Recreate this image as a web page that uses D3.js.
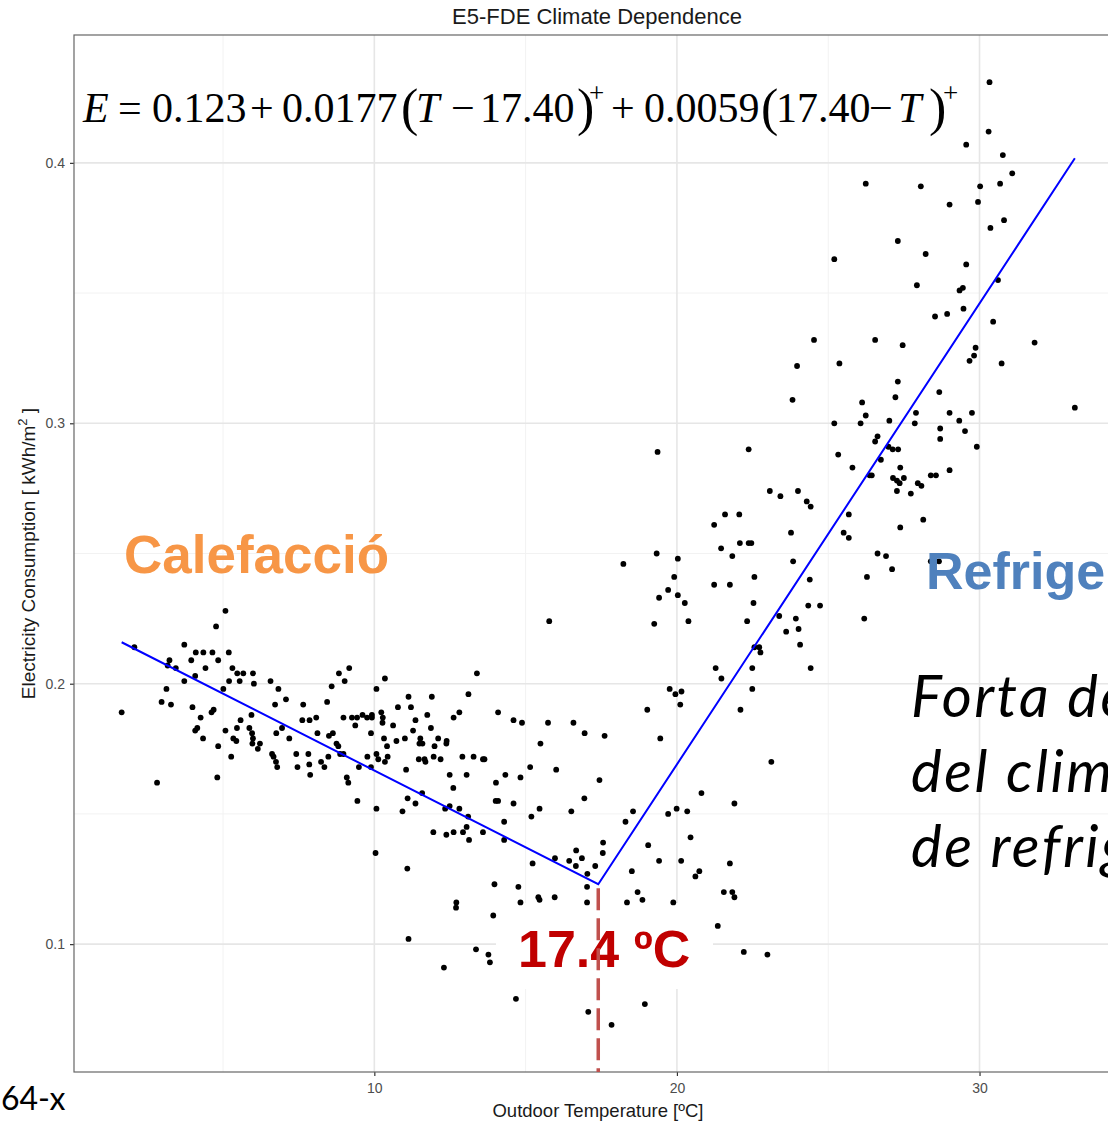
<!DOCTYPE html>
<html>
<head>
<meta charset="utf-8">
<script src="https://cdn.jsdelivr.net/npm/d3@7"></script>
<style>
  html, body { margin: 0; padding: 0; background: #ffffff; }
  svg { display: block; }
</style>
</head>
<body>
<svg id="chart" width="1108" height="1121"></svg>
<script>
// Daily outdoor temperature (ºC) and electricity consumption (kWh/m²)
const temperature = [
  2.07,1.65,2.82,5.08,4.77,3.72,4.10,4.35,4.65,5.19,
  3.95,4.84,3.23,3.17,3.44,4.42,5.31,5.47,5.67,5.99,
  4.08,3.72,5.20,5.55,6.02,6.57,3.13,5.01,6.83,2.97,
  3.28,3.99,4.69,4.62,4.26,6.72,7.08,7.65,8.44,8.59,
  8.83,9.17,9.02,10.07,10.35,5.94,5.58,7.62,7.86,8.08,
  8.98,9.26,9.43,9.61,9.76,9.92,9.92,10.23,10.28,10.27,
  9.37,4.08,4.15,5.08,5.46,5.87,5.96,4.34,5.34,5.44,
  5.99,5.97,6.22,6.15,4.84,5.27,6.76,6.95,7.19,8.12,
  8.50,8.63,8.75,8.81,8.87,8.98,9.89,10.32,10.42,6.62,
  6.67,6.75,6.79,7.42,7.82,8.48,7.46,7.85,8.24,8.35,
  7.88,9.49,9.77,9.89,10.07,10.13,10.35,10.44,9.09,9.14,
  9.44,10.07,10.04,4.81,
  13.39,13.11,11.90,11.13,11.21,10.78,12.81,12.62,11.36,11.75,
  11.87,10.62,10.73,11.01,11.28,11.52,11.49,11.59,12.11,12.39,
  12.38,11.99,11.47,11.69,11.66,11.96,12.19,12.91,13.28,13.59,
  13.64,11.05,12.49,13.05,12.61,11.58,11.10,11.36,10.93,12.34,
  12.49,12.81,13.10,11.95,12.38,12.62,12.93,13.05,13.13,13.59,
  11.09,12.71,12.70,11.13,12.30,13.36,13.77,13.82,14.09,14.60,
  14.88,15.74,16.58,16.95,17.61,15.49,15.15,16.01,14.33,14.83,
  14.02,17.44,16.94,14.01,14.09,14.60,15.46,15.19,16.51,14.29,
  14.29,15.23,15.97,16.44,16.67,16.86,16.66,17.04,17.30,17.56,
  17.55,17.03,13.97,14.76,15.42,15.46,15.96,14.83,17.03,13.93,
  14.68,17.07,17.84,15.78,
  19.36,22.37,23.07,23.42,24.00,21.59,22.06,21.23,23.77,21.46,
  22.08,22.37,22.46,21.83,23.84,19.33,20.03,18.23,19.91,19.71,
  19.41,20.03,20.26,19.25,20.38,21.23,21.75,22.56,22.53,22.32,
  23.38,23.93,24.02,23.61,24.07,22.56,22.72,22.76,21.28,21.47,
  22.49,22.49,19.76,19.95,20.15,20.11,19.02,22.10,
  19.45,23.12,20.81,21.90,18.55,19.99,20.34,19.71,18.30,19.05,
  20.45,19.41,20.14,21.75,18.51,20.74,20.61,18.70,18.86,21.55,
  21.83,21.90,18.35,19.88,21.35,22.21,22.99,18.94,
  26.24,28.06,27.30,28.22,25.20,27.93,28.53,24.53,26.55,27.46,
  23.97,25.37,27.30,23.82,26.12,27.22,28.67,26.24,26.07,27.02,
  27.90,27.86,25.20,28.70,28.70,26.63,26.55,26.99,27.13,27.31,
  25.33,26.74,27.38,25.80,26.37,26.44,27.14,27.27,27.36,27.50,
  27.27,27.73,27.96,28.08,28.39,28.56,24.29,24.42,25.68,25.51,
  25.68,27.38,28.14,26.63,26.91,27.11,26.28,28.39,28.66,24.39,
  24.34,24.73,26.19,24.42,
  30.33,30.30,29.56,30.77,31.08,30.02,30.68,29.01,29.95,30.36,
  30.81,29.56,30.61,29.34,29.45,28.93,29.47,30.45,31.82,29.87,
  29.82,29.67,30.73,33.15,29.01,29.75,29.33,29.52,29.91,29.01
];
const consumption = [
  0.214,0.189,0.162,0.228,0.222,0.215,0.212,0.212,0.212,0.212,
  0.209,0.209,0.209,0.207,0.206,0.206,0.206,0.204,0.204,0.204,
  0.203,0.201,0.201,0.201,0.200,0.201,0.198,0.198,0.198,0.193,
  0.192,0.191,0.190,0.189,0.187,0.192,0.194,0.192,0.193,0.199,
  0.204,0.206,0.201,0.198,0.202,0.188,0.186,0.186,0.186,0.187,
  0.187,0.187,0.187,0.188,0.187,0.188,0.187,0.189,0.187,0.185,
  0.184,0.182,0.183,0.182,0.183,0.183,0.181,0.179,0.179,0.178,
  0.179,0.177,0.177,0.175,0.176,0.172,0.181,0.183,0.179,0.181,
  0.180,0.181,0.177,0.176,0.173,0.173,0.181,0.179,0.176,0.173,
  0.172,0.170,0.168,0.173,0.173,0.172,0.168,0.169,0.170,0.168,
  0.165,0.168,0.172,0.168,0.173,0.171,0.170,0.172,0.164,0.162,
  0.155,0.152,0.135,0.164,
  0.204,0.196,0.195,0.195,0.191,0.191,0.189,0.187,0.186,0.188,
  0.183,0.184,0.178,0.179,0.182,0.179,0.177,0.177,0.179,0.178,
  0.177,0.176,0.171,0.170,0.171,0.172,0.171,0.172,0.172,0.171,
  0.171,0.167,0.165,0.165,0.160,0.158,0.156,0.154,0.151,0.152,
  0.153,0.152,0.149,0.143,0.142,0.143,0.143,0.145,0.140,0.143,
  0.129,0.116,0.114,0.102,0.091,0.098,0.096,0.093,0.189,0.186,
  0.185,0.185,0.185,0.181,0.180,0.177,0.168,0.167,0.165,0.164,
  0.162,0.163,0.156,0.155,0.155,0.154,0.152,0.149,0.151,0.147,
  0.140,0.131,0.133,0.132,0.136,0.133,0.130,0.127,0.130,0.139,
  0.135,0.122,0.123,0.122,0.118,0.117,0.118,0.116,0.116,0.111,
  0.079,0.074,0.069,0.224,
  0.289,0.290,0.274,0.272,0.274,0.265,0.265,0.261,0.258,0.252,
  0.254,0.254,0.254,0.249,0.247,0.250,0.248,0.246,0.241,0.236,
  0.233,0.234,0.231,0.223,0.224,0.238,0.238,0.241,0.231,0.224,
  0.226,0.225,0.221,0.220,0.215,0.214,0.214,0.212,0.206,0.202,
  0.206,0.198,0.198,0.196,0.197,0.192,0.190,0.190,
  0.179,0.170,0.158,0.154,0.151,0.152,0.151,0.150,0.147,0.138,
  0.141,0.132,0.132,0.131,0.128,0.128,0.126,0.120,0.117,0.120,
  0.120,0.118,0.116,0.116,0.107,0.097,0.096,0.077,
  0.392,0.391,0.370,0.365,0.363,0.353,0.341,0.332,0.332,0.330,
  0.322,0.323,0.316,0.309,0.308,0.310,0.312,0.303,0.300,0.301,
  0.304,0.300,0.300,0.298,0.294,0.295,0.293,0.291,0.290,0.290,
  0.288,0.286,0.283,0.283,0.280,0.280,0.279,0.278,0.277,0.279,
  0.274,0.273,0.277,0.276,0.280,0.280,0.270,0.268,0.265,0.258,
  0.256,0.260,0.263,0.250,0.249,0.244,0.241,0.247,0.247,0.240,
  0.230,0.230,0.225,0.206,
  0.431,0.412,0.407,0.403,0.396,0.391,0.392,0.384,0.385,0.375,
  0.378,0.361,0.355,0.351,0.352,0.342,0.344,0.339,0.331,0.329,
  0.326,0.324,0.323,0.306,0.304,0.304,0.301,0.297,0.291,0.282
];

// Change-point model coefficients
const intercept = 0.123;
const coolingSlope = 0.0177;
const heatingSlope = 0.0059;
const balancePoint = 17.40;

// Axis ticks
const xTicks = [10, 20, 30];
const xMinorTicks = [5, 15, 25];
const yTicks = [0.1, 0.2, 0.3, 0.4];
const yMinorTicks = [0.15, 0.25, 0.35];

// Texts
const chartTitle = "E5-FDE Climate Dependence";
const xTitle = "Outdoor Temperature [ºC]";
const heatingLabel = "Calefacció";
const coolingLabel = "Refrigeració";
const noteLines = ["Forta dependència", "del clima per la", "de refrigeració"];
const balanceLabel = balancePoint.toFixed(1) + " ºC";
const cornerLabel = "64-x";

const fitE = t => intercept + coolingSlope * Math.max(t - balancePoint, 0)
                             + heatingSlope * Math.max(balancePoint - t, 0);

const svg = d3.select("#chart");
const W = 1108, H = 1121;
svg.append("rect").attr("width", W).attr("height", H).attr("fill", "#ffffff");

const panel = { left: 74, top: 35, bottom: 1072 };
const data = temperature.map((t, i) => ({ t, e: consumption[i] }));

// ggplot-style 5% expansion of the data range
const xExt = d3.extent(temperature), yExt = d3.extent(consumption);
const xPad = (xExt[1] - xExt[0]) * 0.05, yPad = (yExt[1] - yExt[0]) * 0.05;
const pxPerDegree = 30.26;
const xDom = [xExt[0] - xPad, xExt[1] + xPad];
panel.right = panel.left + (xDom[1] - xDom[0]) * pxPerDegree;

const x = d3.scaleLinear().domain(xDom).range([panel.left, panel.right]);
const y = d3.scaleLinear().domain([yExt[0] - yPad, yExt[1] + yPad]).range([panel.bottom, panel.top]);

const sans = "'Liberation Sans', Arial, sans-serif";

// Grid
const grid = svg.append("g");
grid.selectAll(".vminor").data(xMinorTicks).join("line")
  .attr("x1", d => x(d)).attr("x2", d => x(d))
  .attr("y1", panel.top).attr("y2", panel.bottom)
  .attr("stroke", "#f2f2f2").attr("stroke-width", 1);
grid.selectAll(".hminor").data(yMinorTicks).join("line")
  .attr("y1", d => y(d)).attr("y2", d => y(d))
  .attr("x1", panel.left).attr("x2", panel.right)
  .attr("stroke", "#f2f2f2").attr("stroke-width", 1);
grid.selectAll(".vmajor").data(xTicks).join("line")
  .attr("x1", d => x(d)).attr("x2", d => x(d))
  .attr("y1", panel.top).attr("y2", panel.bottom)
  .attr("stroke", "#e6e6e6").attr("stroke-width", 1.6);
grid.selectAll(".hmajor").data(yTicks).join("line")
  .attr("y1", d => y(d)).attr("y2", d => y(d))
  .attr("x1", panel.left).attr("x2", panel.right)
  .attr("stroke", "#e6e6e6").attr("stroke-width", 1.6);

// White backing for the balance-point label
const labelBox = { x0: 496, x1: 713, y0: 903, y1: 989 };
svg.append("rect")
  .attr("x", labelBox.x0).attr("y", labelBox.y0)
  .attr("width", labelBox.x1 - labelBox.x0).attr("height", labelBox.y1 - labelBox.y0)
  .attr("fill", "#ffffff");

// Observations
svg.append("g").selectAll("circle").data(data).join("circle")
  .attr("cx", d => x(d.t)).attr("cy", d => y(d.e))
  .attr("r", 2.9).attr("fill", "#000000");

// Fitted change-point line
const fitT = [xExt[0], balancePoint, xExt[1]];
svg.append("path")
  .datum(fitT.map(t => ({ t, e: fitE(t) })))
  .attr("d", d3.line().x(d => x(d.t)).y(d => y(d.e)))
  .attr("fill", "none").attr("stroke", "#0000ff").attr("stroke-width", 2);

// Axes
const xAxis = svg.append("g").attr("transform", `translate(0,${panel.bottom})`)
  .call(d3.axisBottom(x).tickValues(xTicks).tickSize(4).tickPadding(7).tickFormat(d3.format("d")));
const yAxis = svg.append("g").attr("transform", `translate(${panel.left},0)`)
  .call(d3.axisLeft(y).tickValues(yTicks).tickSize(4).tickPadding(5).tickFormat(d3.format(".1f")));
[xAxis, yAxis].forEach(a => {
  a.select(".domain").remove();
  a.selectAll(".tick line").attr("stroke", "#333333").attr("stroke-width", 1.2);
  a.selectAll(".tick text").attr("fill", "#4d4d4d").style("font-family", sans).style("font-size", "14px");
});

// Panel border
svg.append("rect")
  .attr("x", panel.left).attr("y", panel.top)
  .attr("width", panel.right - panel.left).attr("height", panel.bottom - panel.top)
  .attr("fill", "none").attr("stroke", "#666666").attr("stroke-width", 1.2);

// Titles
svg.append("text").attr("x", 597).attr("y", 24).attr("text-anchor", "middle")
  .style("font-family", sans).style("font-size", "22px").attr("fill", "#1a1a1a")
  .text(chartTitle);
svg.append("text").attr("x", 598).attr("y", 1117).attr("text-anchor", "middle")
  .style("font-family", sans).style("font-size", "18.5px").attr("fill", "#1a1a1a")
  .text(xTitle);
const yt = svg.append("text")
  .attr("transform", `translate(35,${(panel.top + panel.bottom) / 2}) rotate(-90)`)
  .attr("text-anchor", "middle")
  .style("font-family", sans).style("font-size", "19px").attr("fill", "#1a1a1a");
yt.append("tspan").text("Electricity Consumption [ kWh/m");
yt.append("tspan").attr("dy", -8).style("font-size", "13px").text("2");
yt.append("tspan").attr("dy", 8).text(" ]");

// Region labels
svg.append("text").attr("x", 124).attr("y", 573)
  .style("font-family", sans).style("font-weight", "bold").style("font-size", "53px")
  .attr("fill", "#f79646").text(heatingLabel);
svg.append("text").attr("x", 926).attr("y", 589)
  .style("font-family", sans).style("font-weight", "bold").style("font-size", "52px")
  .attr("fill", "#4f81bd").text(coolingLabel);

const note = svg.append("text")
  .style("font-family", "Lato, 'Open Sans', sans-serif").style("font-style", "italic")
  .style("font-size", "58px").style("letter-spacing", "2.5px").attr("fill", "#000000");
noteLines.forEach((line, i) => {
  note.append("tspan").attr("x", 911).attr("y", 717 + i * 75).text(line);
});

// Balance-point label and marker
svg.append("text").attr("x", 518).attr("y", 967)
  .style("font-family", sans).style("font-weight", "bold").style("font-size", "52px")
  .attr("fill", "#c00000").text(balanceLabel);
svg.append("line")
  .attr("x1", x(balancePoint)).attr("x2", x(balancePoint))
  .attr("y1", y(fitE(balancePoint)) + 4).attr("y2", panel.bottom)
  .attr("stroke", "#c0504d").attr("stroke-width", 3.5)
  .attr("stroke-dasharray", "22,8");

// Fitted equation
const fmt = (v, d) => v.toFixed(d);
const eqBase = 122;
const eqParts = [
  { s: "E", x: 83, it: true },
  { s: "=", x: 118 },
  { s: fmt(intercept, 3), x: 152 },
  { s: "+", x: 250 },
  { s: fmt(coolingSlope, 4), x: 282 },
  { s: "(", x: 401, big: true },
  { s: "T", x: 416, it: true },
  { s: "\u2212", x: 451 },
  { s: fmt(balancePoint, 2), x: 480 },
  { s: ")", x: 577, big: true },
  { s: "+", x: 589, sup: true },
  { s: "+", x: 611 },
  { s: fmt(heatingSlope, 4), x: 644 },
  { s: "(", x: 761, big: true },
  { s: fmt(balancePoint, 2), x: 776 },
  { s: "\u2212", x: 869 },
  { s: "T", x: 898, it: true },
  { s: ")", x: 929, big: true },
  { s: "+", x: 943, sup: true }
];
const eq = svg.append("g")
  .style("font-family", "'Liberation Serif', 'Times New Roman', serif").attr("fill", "#000000");
eq.selectAll("text").data(eqParts).join("text")
  .attr("x", d => d.x)
  .attr("y", d => d.sup ? 102 : (d.big ? eqBase + 3 : eqBase))
  .style("font-size", d => d.sup ? "27px" : (d.big ? "52px" : "42px"))
  .style("font-style", d => d.it ? "italic" : "normal")
  .text(d => d.s);

// Corner tag
svg.append("text").attr("x", 1).attr("y", 1110)
  .style("font-family", "Lato, 'Open Sans', sans-serif").style("font-size", "32px")
  .attr("fill", "#000000").text(cornerLabel);
</script>
</body>
</html>
